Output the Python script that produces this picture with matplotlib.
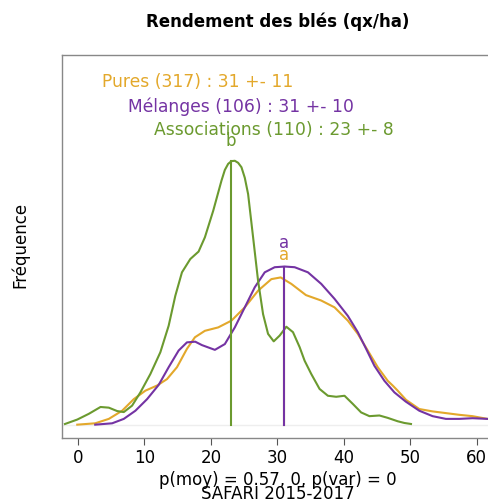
import numpy as np
import matplotlib
matplotlib.use('Agg')
import matplotlib.pyplot as plt

plt.rcParams['font.family'] = ['DejaVu Sans']

# group colours
C_PUR = '#E3A82B'
C_MEL = '#7433A3'
C_ASS = '#6B9A2F'

# density estimates of yield (qx/ha), one per group
x_pures = [-0.1, 2.6, 4.65, 6.65, 8.4, 10.15, 11.9, 13.4, 14.9, 16.4, 17.6, 19.1,
           21.1, 23.1, 25.1, 27.1, 29.1, 30.5, 32.1, 34.3, 36.6, 38.6, 40.6, 42.1,
           43.6, 45.1, 46.6, 47.35, 48.1, 49.35, 51.35, 53.35, 55.35, 57.35, 59.35,
           61.6, 63.0]
d_pures = [0.0001, 0.0005, 0.0018, 0.0042, 0.0076, 0.0101, 0.0116, 0.0135, 0.0170,
           0.0224, 0.0258, 0.0277, 0.0287, 0.0307, 0.0346, 0.0395, 0.0429, 0.0434,
           0.0415, 0.0382, 0.0366, 0.0346, 0.0307, 0.0268, 0.0219, 0.0170, 0.0130,
           0.0116, 0.0101, 0.0074, 0.0047, 0.0040, 0.0035, 0.0030, 0.0026, 0.0018,
           0.0015]

x_mel = [2.6, 5.15, 6.9, 8.65, 10.4, 12.15, 13.65, 15.15, 16.4, 17.65, 18.65, 20.6,
         22.1, 23.6, 25.1, 26.6, 28.1, 29.6, 31.1, 32.6, 34.6, 36.6, 38.6, 40.6,
         42.1, 43.35, 44.6, 46.1, 47.6, 49.3, 51.35, 53.35, 55.35, 57.35, 59.35,
         61.6, 63.0]
d_mel = [0.0001, 0.0005, 0.0018, 0.0042, 0.0076, 0.0118, 0.0170, 0.0219, 0.0243,
         0.0245, 0.0235, 0.0221, 0.0238, 0.0287, 0.0346, 0.0405, 0.0449, 0.0464,
         0.0466, 0.0464, 0.0449, 0.0415, 0.0371, 0.0321, 0.0273, 0.0224, 0.0174,
         0.0130, 0.0096, 0.0069, 0.0042, 0.0026, 0.0018, 0.0018, 0.0020, 0.0018,
         0.0016]

x_ass = [-1.95, -0.1, 1.65, 3.4, 4.65, 5.9, 6.9, 8.15, 9.4, 10.9, 12.4, 13.65,
         14.65, 15.65, 16.9, 18.15, 19.1, 20.35, 21.6, 22.1, 22.6, 23.1, 23.6,
         24.1, 24.6, 25.1, 25.6, 26.35, 27.1, 27.85, 28.6, 29.45, 30.35, 31.35,
         32.35, 33.35, 34.1, 35.1, 36.35, 37.6, 38.85, 40.1, 41.35, 42.6, 43.85,
         45.35, 46.6, 48.1, 49.1, 50.1]
d_ass = [0.0003, 0.0016, 0.0033, 0.0053, 0.0051, 0.0041, 0.0038, 0.0057, 0.0096,
         0.0150, 0.0214, 0.0292, 0.0380, 0.0449, 0.0488, 0.0510, 0.0552, 0.0630,
         0.0719, 0.0750, 0.0768, 0.0776, 0.0777, 0.0771, 0.0758, 0.0727, 0.0679,
         0.0552, 0.0424, 0.0326, 0.0268, 0.0246, 0.0263, 0.0289, 0.0273, 0.0229,
         0.0189, 0.0150, 0.0106, 0.0086, 0.0083, 0.0086, 0.0062, 0.0037, 0.0026,
         0.0028, 0.0021, 0.0011, 0.0006, 0.0003]

# group summaries: n, mean, sd, density at the mean, letter
groups = ['Pures', 'Mélanges', 'Associations']
n_obs = [317, 106, 110]
means = [31, 31, 23]
sds = [11, 10, 8]
d_at_mean = [0.0432, 0.0466, 0.0776]
letters = ['a', 'a', 'b']
colors = [C_PUR, C_MEL, C_ASS]

fig = plt.figure(figsize=(4.89, 5.02), dpi=100)
ax = fig.add_axes([0.1274, 0.1249, 0.883, 0.7635])

ax.axhline(0, color='#eeeeee', lw=1.0, zorder=0)

curves = [(x_pures, d_pures), (x_mel, d_mel), (x_ass, d_ass)]
for (xs, ds), c in zip(curves, colors):
    ax.plot(xs, ds, color=c, lw=1.5, solid_joinstyle='round')

# mean bars, then letters on top
lab_off = [17, 18, 15]
for m, top, c in zip(means, d_at_mean, colors):
    ax.plot([m, m], [0, top], color=c, lw=1.5)
for m, top, c, let, off in zip(means, d_at_mean, colors, letters, lab_off):
    ax.annotate(let, (m, top), xytext=(0, off), textcoords='offset points',
                ha='center', va='center', color=c, fontsize=12)

# group legend text
leg_x = [3.6, 7.55, 11.45]
leg_y = [0.1012, 0.0938, 0.0871]
for g, n, m, s, c, lx, ly in zip(groups, n_obs, means, sds, colors, leg_x, leg_y):
    ax.text(lx, ly, f'{g} ({n}) : {m} +- {s}', color=c, fontsize=12.3,
            ha='left', va='center')

ax.set_xlim(-2.35, 62.6)
ax.set_ylim(-0.00391, 0.1088)
ax.set_xticks([0, 10, 20, 30, 40, 50, 60])
ax.set_yticks([])
ax.tick_params(axis='x', length=5, width=0.8, color='#555555', pad=2, labelsize=12)
for sp in ax.spines.values():
    sp.set_color('#888888')
    sp.set_linewidth(1.0)

fig.text(20 / 489, 1 - 245 / 502, 'Fréquence', rotation=90, ha='center',
         va='center', fontsize=12)
fig.text(278 / 489, 1 - 22 / 502, 'Rendement des blés (qx/ha)', ha='center',
         va='center', fontsize=12, fontweight='bold')
fig.text(278 / 489, 1 - 480 / 502, 'p(moy) = 0.57, 0, p(var) = 0', ha='center',
         va='center', fontsize=12)
fig.text(278 / 489, 1 - 494 / 502, 'SAFARI 2015-2017', ha='center',
         va='center', fontsize=12)

fig.savefig('out.png', dpi=100)
